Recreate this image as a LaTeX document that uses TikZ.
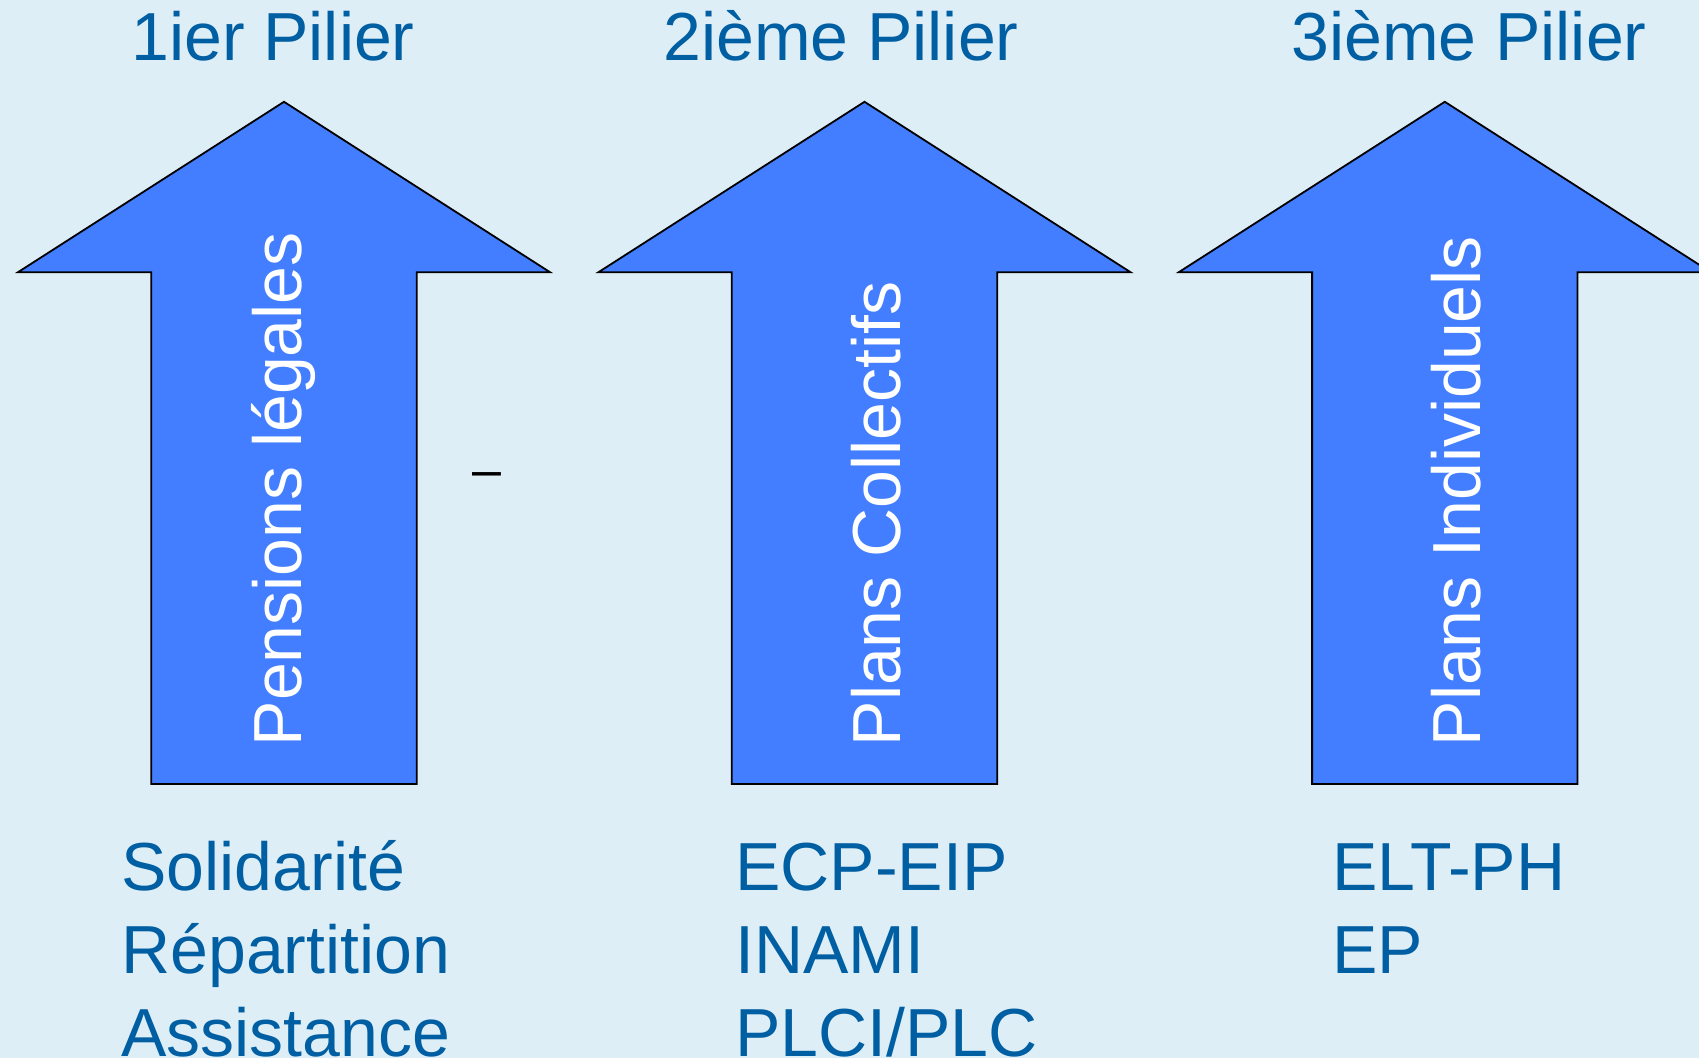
\documentclass[tikz,border=0pt]{standalone}
\usepackage{fontspec}
\setmainfont{Liberation Sans}
\usepackage{tikz}

\definecolor{fond}{RGB}{221,238,247}
\definecolor{bleuFleche}{RGB}{66,126,255}
\definecolor{bleuTexte}{RGB}{0,94,162}

\begin{document}
\begin{tikzpicture}[x=0.5pt,y=-0.5pt,
  fleche/.style={fill=bleuFleche,draw=black,line width=0.9pt,line join=miter},
  titre/.style={anchor=base,inner sep=0pt,text=bleuTexte,font=\fontsize{34}{40}\selectfont},
  liste/.style={anchor=base west,inner sep=0pt,text=bleuTexte,font=\fontsize{34}{40}\selectfont},
  vertical/.style={anchor=base west,inner sep=0pt,rotate=90,text=white,font=\fontsize{34}{40}\selectfont}]

\fill[fond] (0,0) rectangle (1699,1058);
\useasboundingbox (0,0) rectangle (1699,1058);

\node[titre] (titre1) at (273,61) {1ier Pilier};

\node[titre] (titre2) at (841,61) {2ième Pilier};

\node[titre] (titre3) at (1469,61) {3ième Pilier};

\filldraw[fleche] (284,101.8) -- (550,272.2) -- (416.7,272.2) -- (416.7,784) -- (151.3,784) -- (151.3,272.2) -- (18,272.2) -- cycle;

\filldraw[fleche] (864.5,101.8) -- (1130.5,272.2) -- (997.2,272.2) -- (997.2,784) -- (731.8,784) -- (731.8,272.2) -- (598.5,272.2) -- cycle;

\filldraw[fleche] (1444.8,101.8) -- (1710.8,272.2) -- (1577.5,272.2) -- (1577.5,784) -- (1312.1,784) -- (1312.1,272.2) -- (1178.8,272.2) -- cycle;

\node[vertical] (pilier1) at (301.7,746.7) {Pensions légales};

\node[vertical] (pilier2) at (900,746.7) {Plans Collectifs};

\node[vertical] (pilier3) at (1480,746.7) {Plans Individuels};

\node[anchor=base west,inner sep=0pt,font=\fontsize{26}{30}\selectfont] (tiret) at (471.7,488) {–};

\node[liste] (solidarite) at (121,890.7) {Solidarité};

\node[liste] (repartition) at (121,973.3) {Répartition};

\node[liste] (assistance) at (121,1056) {Assistance};

\node[liste] (ecp) at (735,890.7) {ECP-EIP};

\node[liste] (inami) at (735,973.3) {INAMI};

\node[liste] (plci) at (735,1056) {PLCI/PLC};

\node[liste] (elt) at (1332,890.7) {ELT-PH};

\node[liste] (ep) at (1332,973.3) {EP};

\end{tikzpicture}
\end{document}
